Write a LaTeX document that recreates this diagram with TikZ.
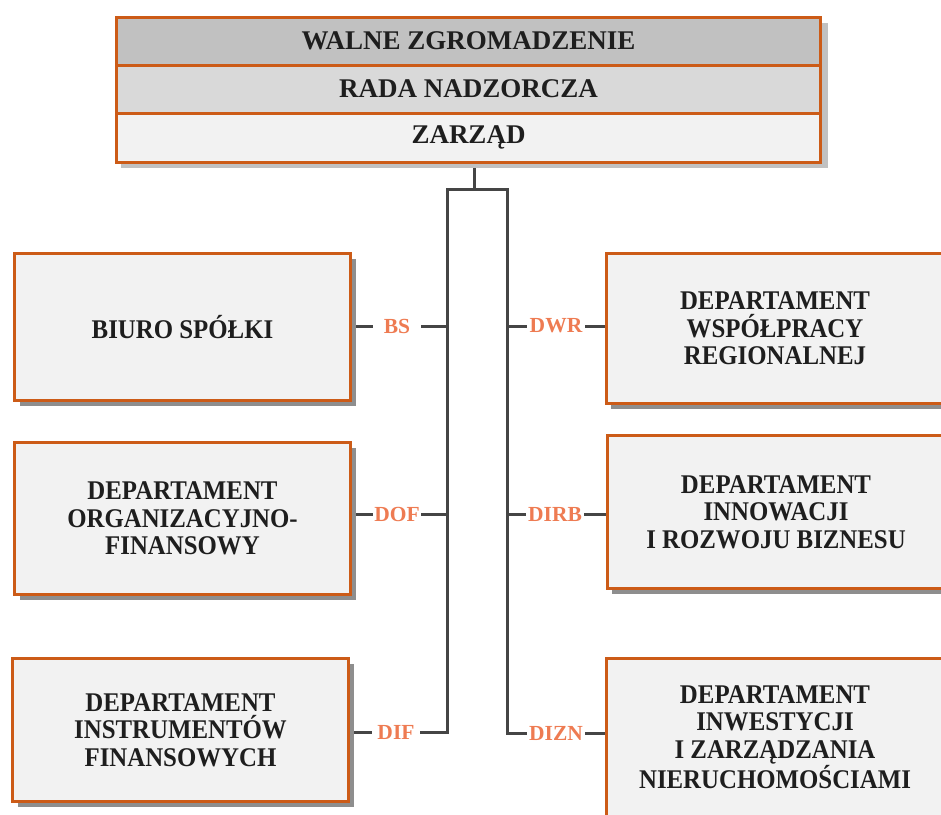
\documentclass[tikz,border=0pt]{standalone}
\usepackage{fontspec}
\setmainfont{Liberation Serif}
\newfontfamily\deptfont[FakeStretch=0.92]{Liberation Serif}
\usetikzlibrary{shadows,backgrounds}
\definecolor{edge}{HTML}{CC5B17}
\definecolor{labc}{HTML}{EE7B52}
\definecolor{conn}{HTML}{454545}
\definecolor{shade}{HTML}{8E8E8E}
\definecolor{rowA}{HTML}{C1C1C1}
\definecolor{rowB}{HTML}{D9D9D9}
\definecolor{rowC}{HTML}{F2F2F2}
\definecolor{ink}{HTML}{1E1E1E}
\begin{document}
\begin{tikzpicture}[x=1pt,y=-1pt,
  dept/.style={draw=edge, line width=3pt, fill=rowC, text=ink,
    font=\deptfont\bfseries\fontsize{27}{27.5}\selectfont, align=center, inner sep=0pt,
    minimum width=336pt,
    drop shadow={shadow xshift=5pt, shadow yshift=-5pt, fill=shade, opacity=1}},
  toprow/.style={draw=edge, line width=3pt, text=ink,
    font=\bfseries\fontsize{27}{27}\selectfont, inner sep=0pt,
    minimum width=704pt},
  lab/.style={text=labc, font=\bfseries\fontsize{21.5}{21.5}\selectfont,
    inner sep=0pt, minimum height=20pt},
  llab/.style={lab, minimum width=48pt},
  rlab/.style={lab, minimum width=58pt},
  connline/.style={draw=conn, line width=3pt}]
\useasboundingbox (0,0) rectangle (941,814);
\clip (0,0) rectangle (941,814);

% top block shadow
\fill[shade!55] (121,23) rectangle (828,168);
\node[toprow, fill=rowA, minimum height=48pt] (wz) at (468.5,41) {WALNE ZGROMADZENIE};
\node[toprow, fill=rowB, minimum height=48pt] (rn) at (468.5,89) {RADA NADZORCZA};
\node[toprow, fill=rowC, minimum height=49pt] (zarz) at (468.5,137.5) {ZARZĄD};

% departments
\node[dept, minimum height=147pt] (bs) at (182.5,327) {BIURO SPÓŁKI};
\node[dept, minimum height=152pt] (dof) at (182.5,518.5) {DEPARTAMENT\\ORGANIZACYJNO-\\FINANSOWY};
\node[dept, minimum height=143pt] (dif) at (180.5,730) {DEPARTAMENT\\INSTRUMENTÓW\\FINANSOWYCH};
\node[dept, minimum height=150pt, minimum width=338pt] (dwr) at (775,328.5) {DEPARTAMENT\\WSPÓŁPRACY\\REGIONALNEJ};
\node[dept, minimum height=153pt, minimum width=338pt] (dirb) at (776,512) {DEPARTAMENT\\INNOWACJI\\I ROZWOJU BIZNESU};
\node[dept, minimum height=158pt, minimum width=338pt] (dizn) at (775,737) {DEPARTAMENT\\INWESTYCJI\\I ZARZĄDZANIA\\NIERUCHOMOŚCIAMI};

% labels
\node[llab] (lbs) at (397,326) {BS};
\node[llab] (ldof) at (397,514) {DOF};
\node[llab] (ldif) at (396,732) {DIF};
\node[rlab] (ldwr) at (556,326) {DWR};
\node[rlab] (ldirb) at (555,514) {DIRB};
\node[rlab] (ldizn) at (556,733) {DIZN};

% spine coordinates
\coordinate (topc) at (474,189);
\coordinate (ltop) at (447,189);
\coordinate (rtop) at (507,189);
\coordinate (lbot) at (447,732);
\coordinate (rbot) at (507,733);

\begin{pgfonlayer}{background}
  \draw[connline] (topc |- zarz.south) -- (topc);
  \draw[connline] (ldif.east) -- (lbot) -- (ltop) -- (rtop) -- (rbot) -- (ldizn.west);
  \draw[connline] (lbs.east) -- (lbs.east -| ltop);
  \draw[connline] (ldof.east) -- (ldof.east -| ltop);
  \draw[connline] (ldwr.west) -- (ldwr.west -| rtop);
  \draw[connline] (ldirb.west) -- (ldirb.west -| rtop);
  \draw[connline] (lbs.west -| bs.east) -- (lbs.west);
  \draw[connline] (ldof.west -| dof.east) -- (ldof.west);
  \draw[connline] (ldif.west -| dif.east) -- (ldif.west);
  \draw[connline] (ldwr.east) -- (ldwr.east -| dwr.west);
  \draw[connline] (ldirb.east) -- (ldirb.east -| dirb.west);
  \draw[connline] (ldizn.east) -- (ldizn.east -| dizn.west);
\end{pgfonlayer}
\end{tikzpicture}
\end{document}
